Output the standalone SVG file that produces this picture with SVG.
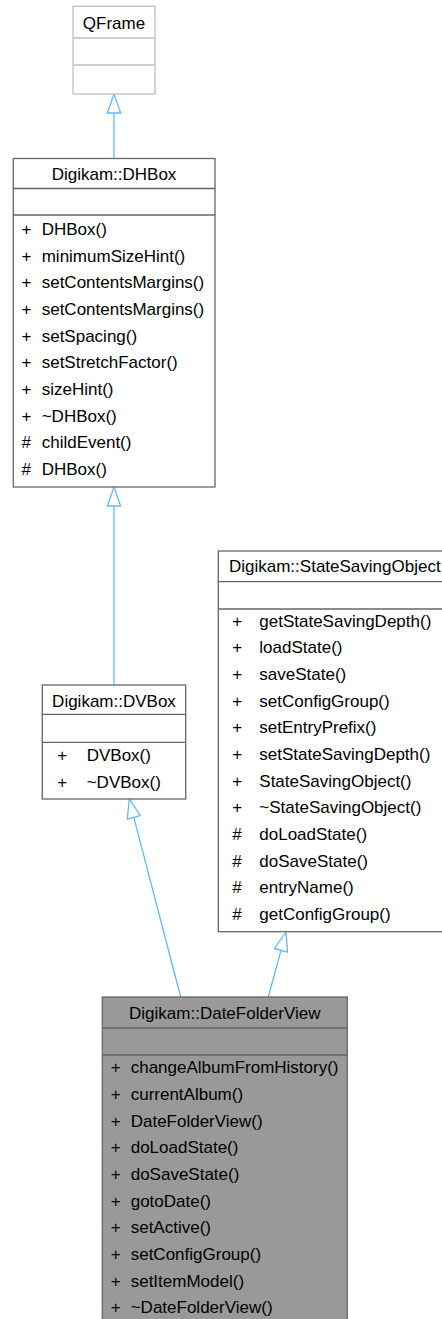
<svg xmlns="http://www.w3.org/2000/svg" width="442" height="1319" viewBox="0 0 442 1319">
<style>
text{font-family:"Liberation Sans",Arial,sans-serif;font-size:17px;fill:#000}
.t{text-anchor:middle}
.box{fill:#fff;stroke:#666;stroke-width:1.3}
.ext{fill:#fff;stroke:#bfbfbf;stroke-width:1.3}
.cur{fill:#999;stroke:#666;stroke-width:1.3}
.sep{stroke:#666;stroke-width:1.3}
.sepx{stroke:#bfbfbf;stroke-width:1.3}
.edge{stroke:#63b8ff;stroke-width:1.3;fill:none}
.head{stroke:#63b8ff;stroke-width:1.3;fill:#fff}
</style>
<rect width="442" height="1319" fill="#fff"/>
<g id="connectors">
<line class="edge" x1="114" y1="158.5" x2="114" y2="113"/>
<polygon class="head" points="114,94 107.3,113 120.7,113"/>
<line class="edge" x1="114" y1="685" x2="114" y2="506"/>
<polygon class="head" points="114,487 107.3,506 120.7,506"/>
<line class="edge" x1="133.8" y1="817.4" x2="180.7" y2="997"/>
<polygon class="head" points="129.3,799 127.3,819.1 140.3,815.7"/>
<line class="edge" x1="281" y1="950.3" x2="268.3" y2="997"/>
<polygon class="head" points="286,932 274.5,948.5 287.5,952.1"/>
</g>
<g id="QFrame">
<rect class="ext" x="73" y="6.3" width="82" height="87.7"/>
<line class="sepx" x1="73" y1="38" x2="155" y2="38"/>
<line class="sepx" x1="73" y1="65" x2="155" y2="65"/>
<text class="t" x="114" y="28.5">QFrame</text>
</g>
<g id="DHBox">
<rect class="box" x="13.3" y="158.5" width="201.7" height="328.5"/>
<line class="sep" x1="13.3" y1="188.5" x2="215" y2="188.5"/>
<line class="sep" x1="13.3" y1="215" x2="215" y2="215"/>
<text class="t" x="114" y="180">Digikam::DHBox</text>
<text x="21.5" y="235">+</text><text x="41.7" y="235">DHBox()</text>
<text x="21.5" y="261.7">+</text><text x="41.7" y="261.7">minimumSizeHint()</text>
<text x="21.5" y="288.3">+</text><text x="41.7" y="288.3">setContentsMargins()</text>
<text x="21.5" y="315">+</text><text x="41.7" y="315">setContentsMargins()</text>
<text x="21.5" y="341.7">+</text><text x="41.7" y="341.7">setSpacing()</text>
<text x="21.5" y="368.3">+</text><text x="41.7" y="368.3">setStretchFactor()</text>
<text x="21.5" y="395">+</text><text x="41.7" y="395">sizeHint()</text>
<text x="21.5" y="421.7">+</text><text x="41.7" y="421.7">~DHBox()</text>
<text x="21.5" y="448.3">#</text><text x="41.7" y="448.3">childEvent()</text>
<text x="21.5" y="475">#</text><text x="41.7" y="475">DHBox()</text>
</g>
<g id="DVBox">
<rect class="box" x="42.3" y="685" width="143.4" height="114"/>
<line class="sep" x1="42.3" y1="714.3" x2="185.7" y2="714.3"/>
<line class="sep" x1="42.3" y1="742.3" x2="185.7" y2="742.3"/>
<text class="t" x="114" y="706.5">Digikam::DVBox</text>
<text x="57.3" y="761">+</text><text x="86.7" y="761">DVBox()</text>
<text x="57.3" y="788">+</text><text x="86.7" y="788">~DVBox()</text>
</g>
<g id="StateSavingObject">
<rect class="box" x="218.3" y="551" width="233" height="380.7"/>
<line class="sep" x1="218.3" y1="581.7" x2="451.3" y2="581.7"/>
<line class="sep" x1="218.3" y1="609" x2="451.3" y2="609"/>
<text class="t" x="334.8" y="571.7">Digikam::StateSavingObject</text>
<text x="232.3" y="626.7">+</text><text x="259.3" y="626.7">getStateSavingDepth()</text>
<text x="232.3" y="653.4">+</text><text x="259.3" y="653.4">loadState()</text>
<text x="232.3" y="680">+</text><text x="259.3" y="680">saveState()</text>
<text x="232.3" y="706.7">+</text><text x="259.3" y="706.7">setConfigGroup()</text>
<text x="232.3" y="733.4">+</text><text x="259.3" y="733.4">setEntryPrefix()</text>
<text x="232.3" y="760">+</text><text x="259.3" y="760">setStateSavingDepth()</text>
<text x="232.3" y="786.7">+</text><text x="259.3" y="786.7">StateSavingObject()</text>
<text x="232.3" y="813.4">+</text><text x="259.3" y="813.4">~StateSavingObject()</text>
<text x="232.3" y="840">#</text><text x="259.3" y="840">doLoadState()</text>
<text x="232.3" y="866.7">#</text><text x="259.3" y="866.7">doSaveState()</text>
<text x="232.3" y="893.4">#</text><text x="259.3" y="893.4">entryName()</text>
<text x="232.3" y="920">#</text><text x="259.3" y="920">getConfigGroup()</text>
</g>
<g id="DateFolderView">
<rect class="cur" x="102.3" y="997" width="245" height="328"/>
<line class="sep" x1="102.3" y1="1028" x2="347.3" y2="1028"/>
<line class="sep" x1="102.3" y1="1055" x2="347.3" y2="1055"/>
<text class="t" x="224.8" y="1019">Digikam::DateFolderView</text>
<text x="110.7" y="1073.3">+</text><text x="130.7" y="1073.3">changeAlbumFromHistory()</text>
<text x="110.7" y="1100">+</text><text x="130.7" y="1100">currentAlbum()</text>
<text x="110.7" y="1126.7">+</text><text x="130.7" y="1126.7">DateFolderView()</text>
<text x="110.7" y="1153.3">+</text><text x="130.7" y="1153.3">doLoadState()</text>
<text x="110.7" y="1180">+</text><text x="130.7" y="1180">doSaveState()</text>
<text x="110.7" y="1206.7">+</text><text x="130.7" y="1206.7">gotoDate()</text>
<text x="110.7" y="1233.3">+</text><text x="130.7" y="1233.3">setActive()</text>
<text x="110.7" y="1260">+</text><text x="130.7" y="1260">setConfigGroup()</text>
<text x="110.7" y="1286.7">+</text><text x="130.7" y="1286.7">setItemModel()</text>
<text x="110.7" y="1313.3">+</text><text x="130.7" y="1313.3">~DateFolderView()</text>
</g>
</svg>
